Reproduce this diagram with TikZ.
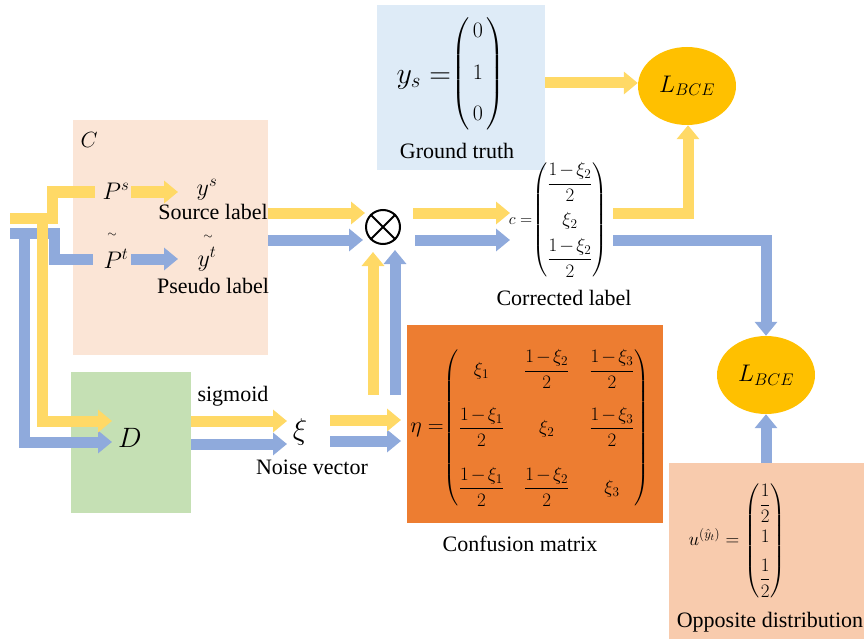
\RequirePackage{fix-cm}
\documentclass[tikz,border=0pt]{standalone}
\usepackage{amsmath}
\usepackage{fontspec}
\setmainfont{Liberation Serif}
\usetikzlibrary{arrows.meta,shapes.geometric}
\definecolor{peach}{HTML}{FBE5D6}
\definecolor{gtblue}{HTML}{DEEBF7}
\definecolor{dgreen}{HTML}{C5E0B4}
\definecolor{cmorange}{HTML}{ED7D31}
\definecolor{opppeach}{HTML}{F8CBAD}
\definecolor{gold}{HTML}{FFC000}
\definecolor{yel}{HTML}{FFD966}
\definecolor{blu}{HTML}{8FAADC}
\newcommand{\myfs}[1]{\fontsize{#1}{#1}\selectfont}
\newcommand{\mfs}[1]{\fontsize{#1}{1.2\dimexpr #1pt\relax}\selectfont}
\newcommand{\omx}[1]{\dfrac{1\mkern-2mu-\mkern-2mu\xi_{#1}}{2}}
\begin{document}
\begin{tikzpicture}[x=1pt,y=-1pt,
  box/.style={rectangle,draw=none,inner sep=0pt,outer sep=0pt},
  lbl/.style={inner sep=0pt,font=\myfs{22}},
  eqn/.style={inner sep=0pt,anchor=east},
  lossnode/.style={ellipse,fill=gold,minimum width=98pt,minimum height=78pt,inner sep=0pt,font=\myfs{24}},
  yline/.style={draw=yel,line width=11pt},
  bline/.style={draw=blu,line width=11pt},
  yarr/.style={yline,-{Triangle[width=22pt,length=14pt]}},
  barr/.style={bline,-{Triangle[width=22pt,length=14pt]}}]
\useasboundingbox (0,0) rectangle (864,639);
% boxes
\node[box,fill=peach,minimum width=195pt,minimum height=235pt] (Cbox) at (170.5,237.5) {};
\node[box,fill=gtblue,minimum width=168pt,minimum height=165pt] (GT) at (461,87.5) {};
\node[box,fill=dgreen,minimum width=120pt,minimum height=141pt] (Dbox) at (131,442.5) {};
\node[box,fill=cmorange,minimum width=256pt,minimum height=198pt] (CM) at (535,424) {};
\node[box,fill=opppeach,minimum width=195pt,minimum height=176pt] (OPP) at (766.5,551) {};
% losses
\node[lossnode] (L1) at (687,86) {$L_{BCE}$};
\node[lossnode] (L2) at (766,375) {$L_{BCE}$};
% otimes
\node[circle,draw=black,line width=2pt,minimum size=34pt,inner sep=0pt] (ot) at (383,227) {};
\draw[line width=2pt] (ot.north west) -- (ot.south east) (ot.north east) -- (ot.south west);
% texts in C
\node[lbl] (Clab) at (89,140) {$C$};
\node[lbl,font=\myfs{24}] (Ps) at (116,191) {$P^{s}$};
\node[lbl,font=\myfs{24}] (ysup) at (207,190) {$y^{s}$};
\node[lbl] (srcl) at (213,212) {Source label};
\node[lbl,font=\myfs{12}] (tl1) at (112,235) {$\sim$};
\node[lbl,font=\myfs{24}] (Pt) at (116,259) {$P^{t}$};
\node[lbl,font=\myfs{12}] (tl2) at (208,237) {$\sim$};
\node[lbl,font=\myfs{24}] (yt) at (207,259) {$y^{t}$};
\node[lbl] (psl) at (213,286) {Pseudo label};
% D, xi
\node[lbl,font=\myfs{28}] (Dl) at (130,438) {$D$};
\node[lbl,font=\myfs{30}] (xi) at (300,432) {$\xi$};
\node[lbl] (sig) at (233,396) {sigmoid};
\node[lbl] (nv) at (312,467) {Noise vector};
% ground truth
\node[eqn] (ysm) at (505,74)
  {\raisebox{-4pt}{\mfs{30}$y_s=$}{\mfs{22}$\begin{pmatrix}\,0\,\\[15pt]\,1\,\\[15pt]\,0\,\end{pmatrix}$}};
\node[lbl] (gtl) at (457,151) {Ground truth};
% corrected label
\node[eqn] (cmat) at (608,220)
  {{\mfs{16}$c=$}{\mfs{19}$\begin{pmatrix}\omx{2}\\[14pt] \xi_2\\[6pt] \omx{2}\end{pmatrix}$}};
\node[lbl] (cl) at (564,298) {Corrected label};
% confusion matrix
\node[eqn] (eta) at (650,428)
  {{\mfs{22}$\eta=$}{\mfs{19}$\setlength{\arraycolsep}{10pt}\begin{pmatrix}
   \xi_1 & \omx{2} & \omx{3}\\[25pt]
   \omx{1} & \xi_2 & \omx{3}\\[27pt]
   \omx{1} & \omx{2} & \xi_3
  \end{pmatrix}$}};
\node[lbl] (cml) at (520,544) {Confusion matrix};
% opposite distribution
\node[eqn] (umat) at (786,541)
  {{\mfs{19}$u^{(\hat{y}_t)}=\begin{pmatrix}\dfrac{1}{2}\\[10pt] 1\\[10pt] \dfrac{1}{2}\end{pmatrix}$}};
\node[lbl] (oppl) at (770,622) {Opposite distribution};
% coordinates for the free ends
\coordinate (inY) at (10,218);
\coordinate (inB) at (10,233);
\coordinate (toPs) at (95,192);
\coordinate (toPt) at (93,259);
% blue connectors (under)
\draw[bline] (inB) -- (54,233) -- (54,259) -- (toPt);
\draw[barr] (24,233) -- (24,442) -- (112,442);
\draw[barr] (131,259) -- (178,259);
\draw[barr] (Cbox.east |- 0,240) -- (363,240);
\draw[barr] (395,395) -- (395,250);
\draw[barr] (415,240) -- (510,240);
\draw[barr] (613,240) -- (766,240) -- (L2.north);
\draw[barr] (OPP.north -| L2.south) -- (L2.south);
\draw[barr] (Dbox.east |- 0,444) -- (287,444);
\draw[barr] (330,441) -- (401,441);
% yellow connectors
\draw[yline] (inY) -- (52,218) -- (52,192) -- (toPs);
\draw[yarr] (42,218) -- (42,421) -- (112,421);
\draw[yarr] (131,192) -- (178,192);
\draw[yarr] (Cbox.east |- 0,213) -- (ot.west |- 0,213);
\draw[yarr] (373,395) -- (373,252);
\draw[yarr] (413,213) -- (510,213);
\draw[yarr] (613,213) -- (688,213) -- (L1.south -| 688,0);
\draw[yarr] (GT.east |- 0,83) -- (L1.west |- 0,83);
\draw[yarr] (Dbox.east |- 0,421) -- (287,421);
\draw[yarr] (330,420) -- (401,420);
\end{tikzpicture}
\end{document}
